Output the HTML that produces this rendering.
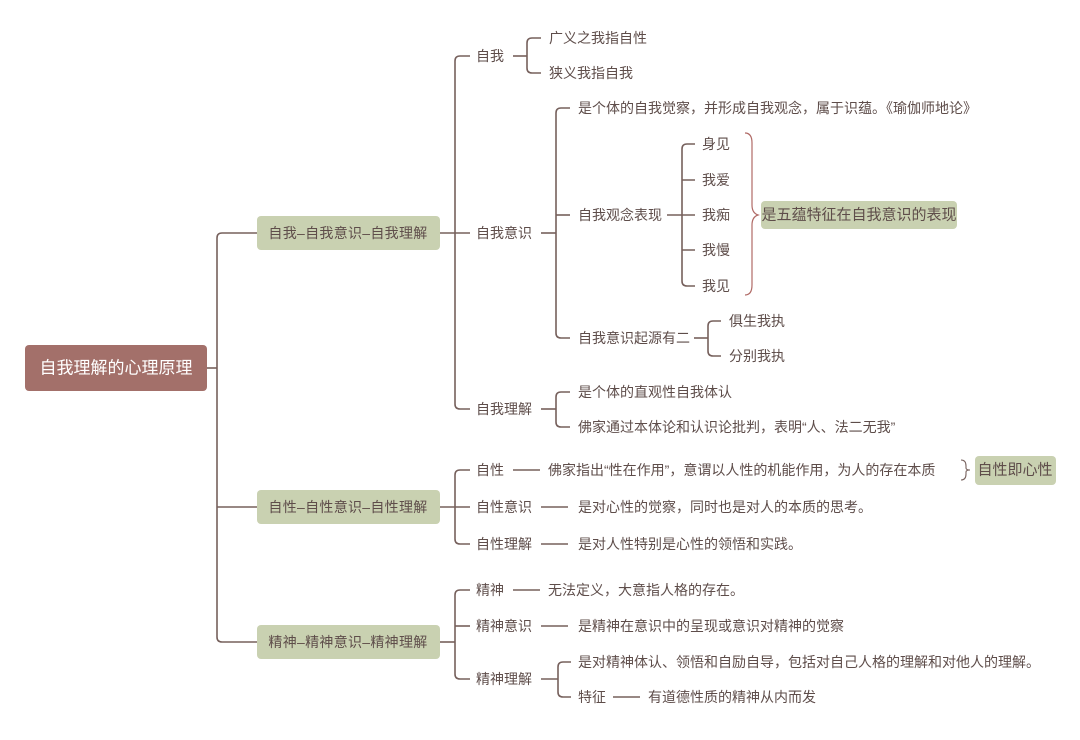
<!DOCTYPE html>
<html><head><meta charset="utf-8"><style>
html,body{margin:0;padding:0;background:#fff;}
svg text{font-family:"Liberation Sans","Noto Sans CJK SC",sans-serif;font-size:14px;fill:#5e4d4a;dominant-baseline:central;}
</style></head><body>
<svg width="1080" height="735" viewBox="0 0 1080 735" xmlns="http://www.w3.org/2000/svg">
<g fill="none" stroke="#76605c" stroke-width="1.6">
<path d="M207 368 H217"/>
<path d="M257 233 H222 Q217 233 217 238 V637 Q217 642 222 642 H257"/>
<path d="M217 507 H257"/>
<path d="M440 233 H470"/>
<path d="M470 56 H460 Q455 56 455 61 V404 Q455 409 460 409 H470"/>
<path d="M513 56 H527"/>
<path d="M541 38 H532 Q527 38 527 43 V68 Q527 73 532 73 H541"/>
<path d="M541 233 H556"/>
<path d="M570 108 H561 Q556 108 556 113 V333 Q556 338 561 338 H570"/>
<path d="M556 215 H570"/>
<path d="M667 215 H695"/>
<path d="M695 144 H687 Q682 144 682 149 V281 Q682 286 687 286 H695"/>
<path d="M682 180 H695 M682 250 H695"/>
<path d="M745 133 Q752 133 752 143 V205 Q752 213 758 215 Q752 217 752 225 V285 Q752 295 745 295" stroke="#b06a66" stroke-width="1.2"/>
<path d="M694 338 H708"/>
<path d="M721 321 H713 Q708 321 708 326 V351 Q708 356 713 356 H721"/>
<path d="M541 409 H556"/>
<path d="M570 392 H561 Q556 392 556 397 V422 Q556 427 561 427 H570"/>
<path d="M440 507 H470"/>
<path d="M470 470 H460 Q455 470 455 475 V539 Q455 544 460 544 H470"/>
<path d="M513 470 H540 M541 507 H568 M541 544 H568"/>
<path d="M961 460 Q966 460 966 466 V468 Q966 470 970 470 Q966 470 966 472 V474 Q966 480 961 480" stroke-width="1.1"/>
<path d="M440 642 H455"/>
<path d="M470 590 H460 Q455 590 455 595 V674 Q455 679 460 679 H470"/>
<path d="M455 626 H470"/>
<path d="M513 590 H540 M541 626 H568"/>
<path d="M541 679 H558"/>
<path d="M571 662 H563 Q558 662 558 667 V692 Q558 697 563 697 H571"/>
<path d="M613 697 H640"/>
</g>
<rect x="25" y="345" width="182" height="46" rx="4" fill="#a3706a"/>
<text x="116" y="368" text-anchor="middle" style="font-size:17px;fill:#fff;">自我理解的心理原理</text>
<rect x="257" y="216" width="183" height="34" rx="4" fill="#c9d1b1"/>
<text x="348" y="233" text-anchor="middle" style="letter-spacing:0.3px">自我–自我意识–自我理解</text>
<rect x="257" y="490" width="183" height="34" rx="4" fill="#c9d1b1"/>
<text x="348" y="507" text-anchor="middle" style="letter-spacing:0.3px">自性–自性意识–自性理解</text>
<rect x="257" y="625" width="183" height="34" rx="4" fill="#c9d1b1"/>
<text x="348" y="642" text-anchor="middle" style="letter-spacing:0.3px">精神–精神意识–精神理解</text>
<rect x="761" y="201" width="196" height="28" rx="4" fill="#c9d1b1"/>
<text x="859" y="215" text-anchor="middle" style="font-size:15px;">是五蕴特征在自我意识的表现</text>
<rect x="975" y="456" width="81" height="29" rx="4" fill="#c9d1b1"/>
<text x="1015" y="470" text-anchor="middle" style="font-size:15px;">自性即心性</text>
<text x="476" y="56">自我</text>
<text x="549" y="38">广义之我指自性</text>
<text x="549" y="73">狭义我指自我</text>
<text x="476" y="233">自我意识</text>
<text x="578" y="108">是个体的自我觉察，并形成自我观念，属于识蕴。《瑜伽师地论》</text>
<text x="578" y="215">自我观念表现</text>
<text x="702" y="144">身见</text>
<text x="702" y="180">我爱</text>
<text x="702" y="215">我痴</text>
<text x="702" y="250">我慢</text>
<text x="702" y="286">我见</text>
<text x="578" y="338">自我意识起源有二</text>
<text x="729" y="321">俱生我执</text>
<text x="729" y="356">分别我执</text>
<text x="476" y="409">自我理解</text>
<text x="578" y="392">是个体的直观性自我体认</text>
<text x="578" y="427">佛家通过本体论和认识论批判，表明“人、法二无我”</text>
<text x="476" y="470">自性</text>
<text x="548" y="470">佛家指出“性在作用”，意谓以人性的机能作用，为人的存在本质</text>
<text x="476" y="507">自性意识</text>
<text x="578" y="507">是对心性的觉察，同时也是对人的本质的思考。</text>
<text x="476" y="544">自性理解</text>
<text x="578" y="544">是对人性特别是心性的领悟和实践。</text>
<text x="476" y="590">精神</text>
<text x="548" y="590">无法定义，大意指人格的存在。</text>
<text x="476" y="626">精神意识</text>
<text x="578" y="626">是精神在意识中的呈现或意识对精神的觉察</text>
<text x="476" y="679">精神理解</text>
<text x="578" y="662">是对精神体认、领悟和自励自导，包括对自己人格的理解和对他人的理解。</text>
<text x="578" y="697">特征</text>
<text x="648" y="697">有道德性质的精神从内而发</text>
</svg>
</body></html>
